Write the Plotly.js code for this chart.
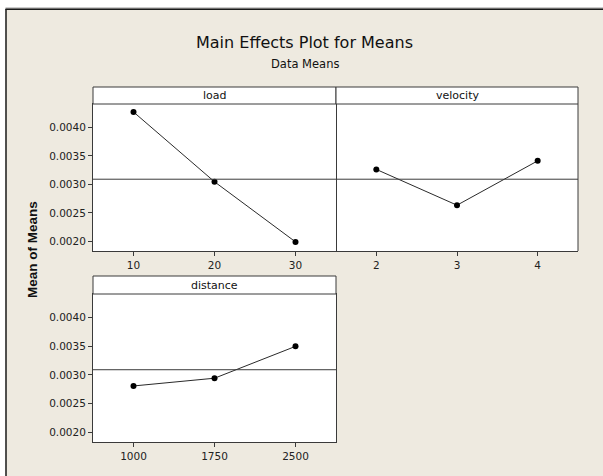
<!DOCTYPE html>
<html>
<head>
<meta charset="utf-8">
<script src="https://cdn.plot.ly/plotly-3.0.1.min.js"></script>
<style>html,body{margin:0;padding:0;background:#fff;}#chart{width:603px;height:476px;}</style>
</head>
<body>
<div id="chart"></div>
<script>
// ---- data ----
const factorNames = ["load", "velocity", "distance"];
const loadLevels = [10, 20, 30];
const loadMeans = [0.00427, 0.003045, 0.00199];
const velocityLevels = [2, 3, 4];
const velocityMeans = [0.003262, 0.002634, 0.003412];
const distanceLevels = [1000, 1750, 2500];
const distanceMeans = [0.002807, 0.002942, 0.003497];
const grandMean = 0.00309;
const yTickVals = [0.0020, 0.0025, 0.0030, 0.0035, 0.0040];
const yTickText = ["0.0020", "0.0025", "0.0030", "0.0035", "0.0040"];

// ---- helpers (pixel -> paper) ----
const W = 603, H = 476;
const px = v => v / W;
const py = v => 1 - v / H;

const tickFont = {family: "DejaVu Sans, sans-serif", size: 10.5, color: "#222"};
const lineCol = "#3a3a3a";

function trace(x, y, xa, ya) {
  return {
    x: x, y: y, xaxis: xa, yaxis: ya, type: "scatter", mode: "lines+markers",
    line: {color: "#2a2a2a", width: 1},
    marker: {color: "#000", size: 6},
    hoverinfo: "skip", showlegend: false
  };
}

const data = [
  trace(loadLevels, loadMeans, "x", "y"),
  trace(velocityLevels, velocityMeans, "x2", "y2"),
  trace(distanceLevels, distanceMeans, "x3", "y3")
];

const yRange = [0.00183, 0.00441];
function xAxis(domain, range, tickvals, anchor) {
  return {
    domain: domain, range: range, anchor: anchor, tickmode: "array", tickvals: tickvals,
    ticktext: tickvals.map(String), ticks: "outside", ticklen: 4, tickcolor: lineCol, tickwidth: 1,
    showline: true, mirror: true, linecolor: lineCol, linewidth: 1, showgrid: false, zeroline: false,
    tickfont: tickFont, fixedrange: true
  };
}
function yAxis(domain, anchor, showTicks, showLine) {
  return {
    domain: domain, range: yRange, anchor: anchor, tickmode: "array", tickvals: yTickVals,
    ticktext: yTickText, ticks: showTicks ? "outside" : "", ticklen: 4, tickcolor: lineCol,
    showticklabels: showTicks, showline: showLine, mirror: true, linecolor: lineCol, linewidth: 1,
    showgrid: false, zeroline: false, tickfont: tickFont, fixedrange: true
  };
}

const row1 = [py(251), py(104)];
const row2 = [py(442), py(294)];
const col1 = [px(93), px(336)];
const col2 = [px(336), px(578)];

const shapes = [
  // white outside the frame
  {type: "rect", xref: "paper", yref: "paper", x0: 0, x1: 1, y0: py(8.5), y1: 1, fillcolor: "#fff", line: {width: 0}},
  {type: "rect", xref: "paper", yref: "paper", x0: 0, x1: px(5.5), y0: 0, y1: 1, fillcolor: "#fff", line: {width: 0}},
  // frame lines
  {type: "line", xref: "paper", yref: "paper", x0: px(5.5), x1: 1.01, y0: py(8), y1: py(8), line: {color: "#9a9a9a", width: 1}},
  {type: "line", xref: "paper", yref: "paper", x0: px(5.5), x1: 1.01, y0: py(9.2), y1: py(9.2), line: {color: "#1a1a1a", width: 1.5}},
  {type: "line", xref: "paper", yref: "paper", x0: px(6), x1: px(6), y0: -0.01, y1: py(9), line: {color: "#1a1a1a", width: 1.5}},
  // right edge of velocity panel
  {type: "line", xref: "paper", yref: "paper", x0: col2[1], x1: col2[1], y0: row1[0], y1: row1[1], line: {color: lineCol, width: 1}},
  // headers
  {type: "rect", xref: "paper", yref: "paper", x0: col1[0], x1: col1[1], y0: py(104), y1: py(87), fillcolor: "#fff", line: {color: lineCol, width: 1}},
  {type: "rect", xref: "paper", yref: "paper", x0: col2[0], x1: col2[1], y0: py(104), y1: py(87), fillcolor: "#fff", line: {color: lineCol, width: 1}},
  {type: "rect", xref: "paper", yref: "paper", x0: col1[0], x1: col1[1], y0: py(294), y1: py(276), fillcolor: "#fff", line: {color: lineCol, width: 1}},
  // grand mean reference lines
  {type: "line", xref: "x domain", yref: "y", x0: 0, x1: 1, y0: grandMean, y1: grandMean, line: {color: lineCol, width: 1}},
  {type: "line", xref: "x2 domain", yref: "y2", x0: 0, x1: 1, y0: grandMean, y1: grandMean, line: {color: lineCol, width: 1}},
  {type: "line", xref: "x3 domain", yref: "y3", x0: 0, x1: 1, y0: grandMean, y1: grandMean, line: {color: lineCol, width: 1}}
];

const hdrFont = {family: "DejaVu Sans, sans-serif", size: 11, color: "#111"};
const annotations = [
  {text: "Data Means", xref: "paper", yref: "paper", x: px(305), y: py(64), xanchor: "center", yanchor: "middle",
   showarrow: false, font: {family: "DejaVu Sans, sans-serif", size: 11.5, color: "#111"}},
  {text: factorNames[0], xref: "paper", yref: "paper", x: (col1[0] + col1[1]) / 2, y: py(95.5), xanchor: "center", yanchor: "middle", showarrow: false, font: hdrFont},
  {text: factorNames[1], xref: "paper", yref: "paper", x: (col2[0] + col2[1]) / 2, y: py(95.5), xanchor: "center", yanchor: "middle", showarrow: false, font: hdrFont},
  {text: factorNames[2], xref: "paper", yref: "paper", x: (col1[0] + col1[1]) / 2, y: py(285), xanchor: "center", yanchor: "middle", showarrow: false, font: hdrFont},
  {text: "<b>Mean of Means</b>", xref: "paper", yref: "paper", x: px(32), y: py(250), xanchor: "center", yanchor: "middle",
   textangle: -90, showarrow: false, font: {family: "Liberation Sans, Arial, sans-serif", size: 13.5, color: "#111"}}
];

const layout = {
  width: W, height: H,
  margin: {l: 0, r: 0, t: 0, b: 0, pad: 0},
  paper_bgcolor: "#EEEAE0",
  plot_bgcolor: "#FFFFFF",
  title: {text: "Main Effects Plot for Means", x: px(304.5), y: py(42.5), xref: "paper", yref: "paper",
          xanchor: "center", yanchor: "middle", font: {family: "DejaVu Sans, sans-serif", size: 16, color: "#111"}},
  xaxis: xAxis(col1, [5, 35], loadLevels, "y"),
  yaxis: yAxis(row1, "x", true, true),
  xaxis2: xAxis(col2, [1.5, 4.5], velocityLevels, "y2"),
  yaxis2: yAxis(row1, "x2", false, false),
  xaxis3: xAxis(col1, [625, 2875], distanceLevels, "y3"),
  yaxis3: yAxis(row2, "x3", true, true),
  shapes: shapes,
  annotations: annotations,
  showlegend: false
};

Plotly.newPlot("chart", data, layout, {staticPlot: true, displayModeBar: false});
</script>
</body>
</html>
